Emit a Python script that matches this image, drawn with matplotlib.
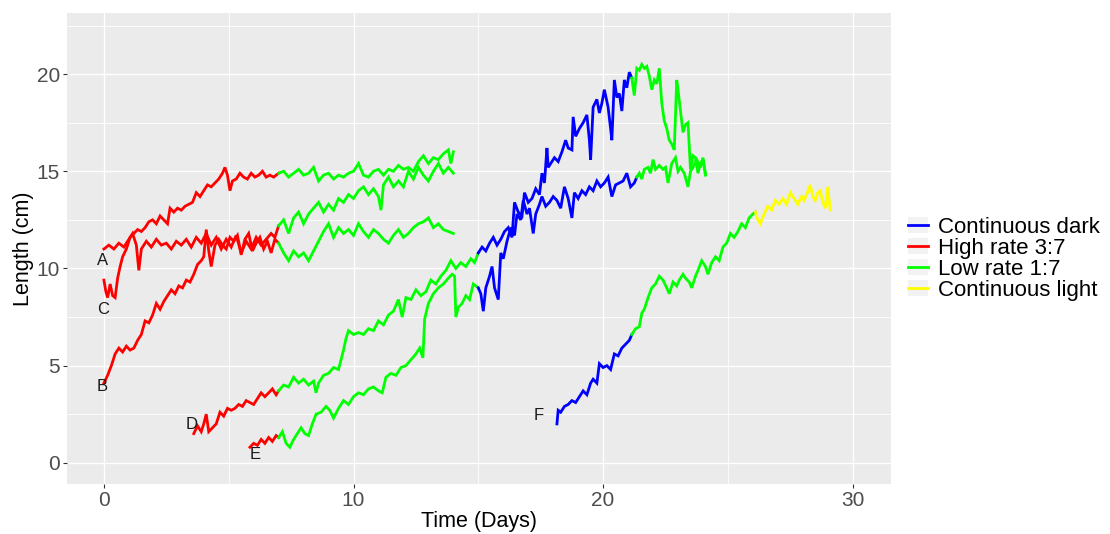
"""Fish length over time under four light regimes (ggplot-style line chart)."""
import matplotlib

matplotlib.use("Agg")
import matplotlib.pyplot as plt
from matplotlib.lines import Line2D
from matplotlib.patches import Patch

plt.rcParams["font.family"] = ["Liberation Sans", "DejaVu Sans"]

REGIMES = ["Continuous dark", "High rate 3:7", "Low rate 1:7", "Continuous light"]
COLORS = {"Continuous dark": "#0000FF", "High rate 3:7": "#FF0000",
          "Low rate 1:7": "#00FF00", "Continuous light": "#FFFF00"}

# ---- fish A ----
a_high_t = [0.0, 0.2, 0.4, 0.6, 0.8, 1.0, 1.15, 1.3, 1.4, 1.5, 1.7, 1.9, 2.1, 2.3, 2.5, 2.7, 2.9, 3.1, 3.3,
            3.5, 3.7, 3.9, 4.1, 4.3, 4.5, 4.7, 4.9, 5.1, 5.3, 5.5, 5.7, 5.9, 6.1, 6.3, 6.5, 6.7, 6.85, 7.0]
a_high_len = [11.0, 11.2, 11.0, 11.3, 11.1, 11.5, 11.8, 11.2, 9.9, 11.0, 11.4, 11.1, 11.5, 11.2, 11.3, 11.0,
              11.4, 11.2, 11.5, 11.1, 11.6, 11.3, 11.8, 11.2, 11.6, 11.0, 11.5, 11.1, 11.7, 10.8, 11.4, 11.0,
              11.6, 11.2, 11.5, 11.8, 11.6, 12.2]
a_low_t = [7.0, 7.2, 7.4, 7.6, 7.8, 8.0, 8.2, 8.4, 8.6, 8.8, 9.0, 9.2, 9.4, 9.6, 9.8, 10.0, 10.2, 10.4, 10.6,
           10.8, 11.0, 11.1, 11.2, 11.4, 11.6, 11.8, 12.0, 12.2, 12.4, 12.6, 12.8, 13.0, 13.2, 13.4, 13.6, 13.8, 14.0]
a_low_len = [12.2, 12.5, 11.8, 12.6, 12.9, 12.3, 12.8, 13.1, 13.4, 12.9, 13.3, 13.0, 13.6, 13.4, 13.8, 13.6,
             14.0, 14.2, 13.8, 14.1, 13.7, 13.0, 14.3, 14.7, 14.2, 14.5, 14.2, 15.0, 14.6, 15.2, 14.8, 14.5,
             15.0, 15.4, 14.9, 15.2, 14.9]

# ---- fish B ----
b_high_t = [0.0, 0.15, 0.3, 0.45, 0.6, 0.75, 0.9, 1.05, 1.2, 1.35, 1.5, 1.65, 1.8, 1.95, 2.1, 2.25, 2.4, 2.55,
            2.7, 2.85, 3.0, 3.15, 3.3, 3.45, 3.6, 3.75, 3.9, 4.0, 4.1, 4.2, 4.3, 4.45, 4.6, 4.75, 4.9, 5.05,
            5.2, 5.35, 5.5, 5.65, 5.8, 5.95, 6.1, 6.25, 6.4, 6.55, 6.7, 6.85, 7.0]
b_high_len = [4.1, 4.5, 5.0, 5.6, 5.9, 5.7, 6.0, 5.8, 5.9, 6.3, 6.6, 7.3, 7.2, 7.6, 8.2, 7.9, 8.3, 8.6, 8.9,
              8.7, 9.1, 9.0, 9.4, 9.3, 9.7, 10.2, 10.4, 10.6, 12.0, 10.9, 10.1, 11.2, 11.5, 11.2, 11.0, 11.6,
              11.4, 11.7, 10.7, 11.5, 11.8, 10.9, 11.3, 11.6, 11.0, 11.4, 10.8, 11.5, 11.3]
b_low_t = [7.0, 7.2, 7.4, 7.6, 7.8, 8.0, 8.2, 8.4, 8.6, 8.8, 9.0, 9.2, 9.4, 9.6, 9.8, 10.0, 10.2, 10.4, 10.6,
           10.8, 11.0, 11.2, 11.4, 11.6, 11.8, 12.0, 12.2, 12.4, 12.6, 12.8, 13.0, 13.2, 13.4, 13.6, 13.8, 14.0]
b_low_len = [11.3, 10.8, 10.4, 10.9, 10.6, 10.8, 10.4, 10.9, 11.4, 11.9, 12.3, 11.6, 12.1, 11.8, 12.0, 11.7,
             12.3, 11.9, 11.6, 12.0, 11.8, 11.5, 11.3, 11.7, 12.0, 11.6, 11.8, 12.1, 12.3, 12.4, 12.6, 12.1,
             12.3, 12.0, 11.9, 11.8]

# ---- fish C ----
c_high_t = [0.0, 0.08, 0.15, 0.25, 0.35, 0.45, 0.55, 0.65, 0.75, 0.9, 1.05, 1.2, 1.35, 1.5, 1.65, 1.8, 1.95,
            2.1, 2.25, 2.4, 2.55, 2.65, 2.8, 2.95, 3.1, 3.25, 3.4, 3.55, 3.7, 3.85, 4.0, 4.15, 4.3, 4.45, 4.6,
            4.75, 4.85, 4.95, 5.05, 5.15, 5.3, 5.45, 5.6, 5.75, 5.9, 6.05, 6.2, 6.35, 6.5, 6.65, 6.8, 7.0]
c_high_len = [9.4, 8.8, 8.5, 9.2, 8.6, 8.5, 9.5, 10.1, 10.6, 11.0, 11.6, 11.8, 12.0, 11.9, 12.1, 12.4, 12.5,
              12.3, 12.7, 12.5, 12.3, 13.1, 12.9, 13.1, 13.0, 13.2, 13.3, 13.4, 13.9, 13.7, 14.0, 14.3, 14.2,
              14.4, 14.6, 14.9, 15.2, 14.8, 14.0, 14.5, 14.6, 14.9, 14.7, 14.6, 14.9, 14.7, 14.8, 15.0, 14.7,
              14.8, 14.7, 14.9]
c_low_t = [7.0, 7.2, 7.4, 7.6, 7.8, 8.0, 8.2, 8.4, 8.6, 8.8, 9.0, 9.2, 9.4, 9.6, 9.8, 10.0, 10.2, 10.4, 10.6,
           10.8, 11.0, 11.2, 11.4, 11.6, 11.8, 12.0, 12.2, 12.4, 12.6, 12.8, 13.0, 13.2, 13.4, 13.6, 13.8, 13.9, 14.0]
c_low_len = [14.9, 15.0, 14.7, 14.9, 15.1, 14.8, 14.9, 15.2, 14.5, 14.8, 14.9, 14.6, 14.8, 14.7, 14.9, 15.0,
             15.4, 14.8, 14.7, 15.0, 15.1, 14.8, 15.1, 15.0, 15.3, 15.1, 15.2, 15.0, 15.5, 15.8, 15.4, 15.7,
             15.6, 15.9, 16.1, 15.4, 16.0]

# ---- fish D ----
d_high_t = [3.6, 3.75, 3.9, 4.0, 4.1, 4.2, 4.35, 4.5, 4.65, 4.8, 4.95, 5.1, 5.25, 5.4, 5.55, 5.7, 5.85, 6.0,
            6.15, 6.3, 6.45, 6.6, 6.75, 6.9, 7.0]
d_high_len = [1.5, 1.9, 1.6, 2.0, 2.5, 1.6, 1.8, 2.0, 2.6, 2.4, 2.8, 2.7, 2.8, 3.0, 2.9, 3.2, 3.1, 3.0, 3.3,
              3.6, 3.4, 3.6, 3.8, 3.5, 3.7]
d_low_t = [7.0, 7.2, 7.4, 7.6, 7.8, 8.0, 8.2, 8.4, 8.5, 8.6, 8.8, 9.0, 9.2, 9.4, 9.5, 9.6, 9.7, 9.8, 10.0,
           10.2, 10.4, 10.6, 10.8, 11.0, 11.2, 11.4, 11.6, 11.8, 11.95, 12.1, 12.3, 12.5, 12.7, 12.9, 13.1,
           13.3, 13.5, 13.7, 13.9, 14.1, 14.3, 14.5, 14.7, 14.85, 15.0]
d_low_len = [3.7, 4.0, 3.9, 4.4, 4.1, 4.3, 4.0, 4.2, 3.6, 4.1, 4.5, 4.6, 4.9, 4.8, 5.3, 5.8, 6.4, 6.8, 6.6,
             6.7, 6.6, 6.9, 6.8, 7.3, 7.1, 7.6, 7.8, 8.4, 7.5, 8.5, 8.4, 8.9, 8.6, 8.8, 9.4, 9.2, 9.6, 9.9,
             10.4, 10.0, 10.3, 10.1, 10.5, 10.3, 10.8]
d_dark_t = [15.0, 15.15, 15.3, 15.45, 15.6, 15.75, 15.9, 16.05, 16.2, 16.35, 16.45, 16.6, 16.75, 16.85, 17.0,
            17.15, 17.3, 17.45, 17.55, 17.65, 17.75, 17.8, 17.9, 18.05, 18.2, 18.35, 18.5, 18.6, 18.75, 18.8,
            18.9, 19.05, 19.2, 19.35, 19.45, 19.5, 19.6, 19.75, 19.85, 19.95, 20.05, 20.2, 20.3, 20.35, 20.45,
            20.55, 20.65, 20.75, 20.85, 20.95, 21.05, 21.15]
d_dark_len = [10.8, 11.1, 10.9, 11.3, 11.6, 11.2, 11.5, 11.9, 12.1, 11.6, 13.4, 12.9, 12.7, 13.9, 13.4, 13.6,
              14.1, 13.8, 14.9, 14.4, 16.2, 15.2, 15.4, 15.7, 15.5, 16.0, 16.6, 16.2, 16.1, 17.8, 16.8, 17.2,
              17.5, 17.9, 16.6, 15.6, 18.3, 18.7, 18.0, 18.5, 19.2, 18.3, 17.2, 16.6, 19.7, 18.8, 19.0, 18.1,
              19.7, 19.3, 20.1, 19.8]
d_low2_t = [21.15, 21.25, 21.35, 21.45, 21.55, 21.65, 21.75, 21.85, 21.95, 22.05, 22.15, 22.25, 22.35, 22.45,
            22.55, 22.65, 22.75, 22.85, 22.95, 23.0, 23.1, 23.2, 23.3, 23.4, 23.45, 23.5, 23.6, 23.7, 23.8,
            23.9, 24.0, 24.1]
d_low2_len = [19.8, 18.9, 20.3, 20.2, 20.5, 20.3, 20.4, 19.9, 19.2, 19.7, 19.5, 20.3, 18.5, 17.6, 17.2, 16.6,
              16.4, 16.1, 19.7, 19.2, 18.1, 17.0, 17.4, 17.5, 16.3, 15.1, 15.8, 15.7, 14.9, 15.4, 15.6, 14.8]

# ---- fish E ----
e_high_t = [5.85, 6.0, 6.15, 6.3, 6.45, 6.6, 6.75, 6.9, 7.0]
e_high_len = [0.8, 1.0, 0.9, 1.2, 1.0, 1.3, 1.1, 1.4, 1.3]
e_low_t = [7.0, 7.15, 7.3, 7.45, 7.6, 7.75, 7.9, 8.05, 8.2, 8.35, 8.5, 8.7, 8.9, 9.05, 9.2, 9.4, 9.6, 9.8,
           10.0, 10.2, 10.4, 10.6, 10.8, 11.0, 11.15, 11.3, 11.5, 11.7, 11.9, 12.1, 12.3, 12.5, 12.65, 12.78,
           12.85, 13.0, 13.2, 13.4, 13.6, 13.8, 13.95, 14.05, 14.1, 14.2, 14.35, 14.5, 14.65, 14.8, 15.0]
e_low_len = [1.3, 1.6, 1.0, 0.8, 1.2, 1.5, 1.8, 1.5, 1.4, 2.0, 2.5, 2.6, 2.9, 2.7, 2.3, 2.8, 3.2, 3.0, 3.4,
             3.6, 3.5, 3.8, 3.9, 3.7, 3.6, 4.4, 4.6, 4.5, 4.9, 5.0, 5.3, 5.6, 5.9, 5.4, 7.4, 8.2, 8.7, 9.0,
             9.2, 9.5, 9.7, 9.6, 7.5, 8.0, 8.2, 8.6, 8.4, 9.2, 9.0]
e_dark_t = [15.0, 15.1, 15.2, 15.3, 15.45, 15.55, 15.65, 15.8, 15.9, 16.0, 16.15, 16.3, 16.45, 16.55, 16.7,
            16.8, 16.95, 17.05, 17.2, 17.3, 17.45, 17.55, 17.7, 17.85, 18.0, 18.15, 18.3, 18.45, 18.6, 18.75,
            18.85, 19.0, 19.15, 19.3, 19.45, 19.6, 19.75, 19.9, 20.05, 20.2, 20.35, 20.5, 20.65, 20.8, 20.95,
            21.1, 21.25, 21.35]
e_dark_len = [9.0, 8.7, 7.8, 9.0, 9.6, 10.1, 9.0, 8.4, 10.8, 10.5, 11.4, 12.1, 11.7, 12.8, 12.5, 13.5, 12.8,
              13.1, 11.8, 12.8, 13.3, 13.7, 13.2, 13.4, 13.7, 13.5, 13.1, 14.2, 13.6, 12.6, 13.9, 13.6, 14.0,
              13.8, 14.2, 14.0, 14.5, 14.2, 14.4, 14.7, 13.7, 14.3, 14.4, 14.5, 14.9, 14.2, 14.4, 14.7]
e_low2_t = [21.35, 21.45, 21.55, 21.65, 21.8, 21.9, 22.0, 22.1, 22.25, 22.4, 22.5, 22.6, 22.75, 22.9, 23.0,
            23.1, 23.25, 23.4, 23.5, 23.6, 23.75, 23.9, 24.0, 24.1]
e_low2_len = [14.7, 14.9, 14.6, 15.1, 15.2, 14.9, 15.6, 15.1, 15.3, 15.1, 15.2, 14.4, 15.4, 15.7, 15.0, 15.2,
              14.9, 14.2, 15.0, 15.2, 15.6, 15.2, 15.7, 14.9]

# ---- fish F ----
f_dark_t = [18.15, 18.2, 18.3, 18.45, 18.6, 18.75, 18.9, 19.05, 19.2, 19.35, 19.5, 19.6, 19.75, 19.85, 20.0,
            20.15, 20.3, 20.45, 20.6, 20.75, 20.9, 21.05, 21.15]
f_dark_len = [2.0, 2.7, 2.6, 2.9, 3.0, 3.2, 3.1, 3.4, 3.7, 3.5, 4.1, 4.3, 4.1, 5.1, 4.9, 5.0, 4.8, 5.6, 5.5,
              5.9, 6.1, 6.3, 6.6]
f_low_t = [21.15, 21.3, 21.45, 21.55, 21.65, 21.8, 21.95, 22.1, 22.25, 22.4, 22.55, 22.65, 22.8, 22.95, 23.05,
           23.2, 23.3, 23.45, 23.55, 23.7, 23.8, 23.95, 24.1, 24.2, 24.35, 24.5, 24.65, 24.8, 24.95, 25.1,
           25.25, 25.4, 25.55, 25.7, 25.85, 26.0, 26.1]
f_low_len = [6.6, 6.9, 7.0, 7.7, 7.9, 8.5, 9.0, 9.2, 9.6, 9.4, 9.0, 8.7, 9.3, 9.1, 9.4, 9.7, 9.5, 9.3, 9.0,
             9.6, 9.9, 10.4, 10.1, 9.7, 10.3, 10.6, 10.4, 11.1, 11.3, 11.8, 11.6, 11.9, 12.3, 12.1, 12.6,
             12.8, 12.9]
f_light_t = [26.1, 26.2, 26.3, 26.45, 26.6, 26.75, 26.9, 27.05, 27.2, 27.35, 27.5, 27.65, 27.8, 27.95, 28.05,
             28.15, 28.3, 28.4, 28.5, 28.6, 28.7, 28.8, 28.9, 29.0, 29.1]
f_light_len = [12.9, 12.5, 12.3, 12.8, 13.2, 13.0, 13.5, 13.3, 13.6, 13.3, 13.9, 13.6, 13.3, 13.7, 13.5, 13.8,
               14.3, 13.7, 13.5, 13.9, 14.0, 13.4, 13.1, 14.2, 13.0]

SEGMENTS = [
    ("High rate 3:7", a_high_t, a_high_len), ("Low rate 1:7", a_low_t, a_low_len),
    ("High rate 3:7", b_high_t, b_high_len), ("Low rate 1:7", b_low_t, b_low_len),
    ("High rate 3:7", c_high_t, c_high_len), ("Low rate 1:7", c_low_t, c_low_len),
    ("High rate 3:7", d_high_t, d_high_len), ("Low rate 1:7", d_low_t, d_low_len),
    ("Continuous dark", d_dark_t, d_dark_len), ("Low rate 1:7", d_low2_t, d_low2_len),
    ("High rate 3:7", e_high_t, e_high_len), ("Low rate 1:7", e_low_t, e_low_len),
    ("Continuous dark", e_dark_t, e_dark_len), ("Low rate 1:7", e_low2_t, e_low2_len),
    ("Continuous dark", f_dark_t, f_dark_len), ("Low rate 1:7", f_low_t, f_low_len),
    ("Continuous light", f_light_t, f_light_len),
]

# fish labels: (letter, day, length)
LABELS = [("A", -0.05, 10.4), ("C", -0.05, 7.9), ("B", -0.05, 3.9),
          ("D", 3.5, 1.95), ("E", 6.05, 0.4), ("F", 17.4, 2.45)]

fig = plt.figure(figsize=(11.1, 5.34), dpi=100)
ax = fig.add_axes([0.0601, 0.0930, 0.7423, 0.8821])
ax.set_facecolor("#EBEBEB")

for regime, t, ln in SEGMENTS:
    assert len(t) == len(ln)
    ax.plot(t, ln, color=COLORS[regime], lw=2.0, solid_joinstyle="miter", zorder=3)

for letter, x, y in LABELS:
    ax.text(x, y, letter, fontsize=12, ha="center", va="center", color="#1A1A1A", zorder=4)

ax.set_xlim(-1.49, 31.52)
ax.set_ylim(-1.11, 23.13)
ax.set_xticks([0, 10, 20, 30])
ax.set_xticks([5, 15, 25], minor=True)
ax.set_yticks([0, 5, 10, 15, 20])
ax.set_yticks([2.5, 7.5, 12.5, 17.5, 22.5], minor=True)
ax.grid(which="major", color="white", lw=1.0, zorder=0)
ax.grid(which="minor", color="white", lw=0.6, zorder=0)
ax.set_axisbelow(True)
for s in ax.spines.values():
    s.set_visible(False)
ax.tick_params(which="major", length=3, width=0.8, color="#333333", labelsize=15,
               labelcolor="#4D4D4D", pad=2)
ax.tick_params(which="minor", length=0)
ax.set_xlabel("Time (Days)", fontsize=15.5, color="black", labelpad=0.5)
ax.set_ylabel("Length (cm)", fontsize=15.5, color="black", labelpad=1.5)

handles = [(Patch(facecolor="#F2F2F2", edgecolor="none"), Line2D([], [], color=COLORS[r], lw=2))
           for r in REGIMES]
fig.legend(handles, REGIMES, loc="center left", bbox_to_anchor=(0.818, 0.515), frameon=False,
           fontsize=16, handlelength=0.9, handletextpad=0.45, labelspacing=0.0,
           borderpad=0, borderaxespad=0)

fig.savefig("out.png", dpi=100)
